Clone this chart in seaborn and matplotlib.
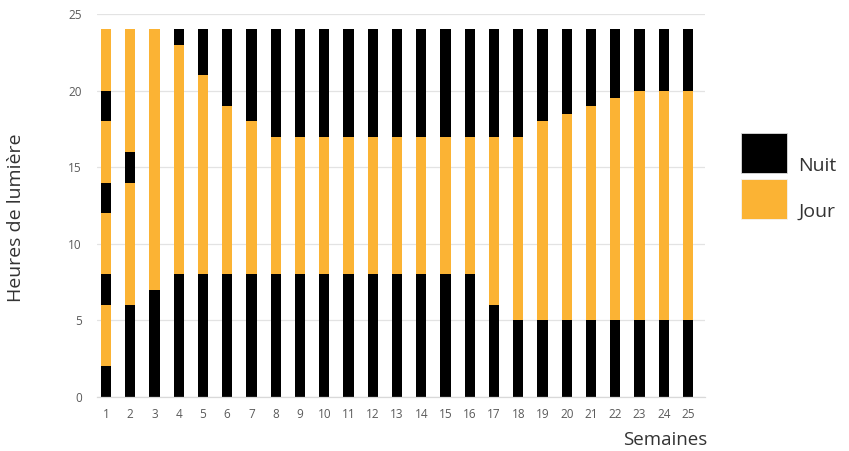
import numpy as np
import pandas as pd
import matplotlib
matplotlib.use("Agg")
import matplotlib.pyplot as plt
from matplotlib.patches import Patch, Rectangle
from matplotlib.legend_handler import HandlerPatch
import seaborn as sns

# Weeks and daily light programme: alternating night / day periods (hours),
# each list gives the duration of that period for weeks 1..25.
semaines = list(range(1, 26))
nuit_1 = [2, 6, 7, 8, 8, 8, 8, 8, 8, 8, 8, 8, 8, 8, 8, 8, 6, 5, 5, 5, 5, 5, 5, 5, 5]
jour_1 = [4, 8, 17, 15, 13, 11, 10, 9, 9, 9, 9, 9, 9, 9, 9, 9, 11, 12, 13, 13.5, 14, 14.5, 15, 15, 15]
nuit_2 = [2, 2, 0, 1, 3, 5, 6, 7, 7, 7, 7, 7, 7, 7, 7, 7, 7, 7, 6, 5.5, 5, 4.5, 4, 4, 4]
jour_2 = [4, 8] + [0] * 23
nuit_3 = [2] + [0] * 24
jour_3 = [4] + [0] * 24
nuit_4 = [2] + [0] * 24
jour_4 = [4] + [0] * 24

couleur_nuit = "#000000"
couleur_jour = "#FBB334"

periodes = [
    ("Nuit", nuit_1), ("Jour", jour_1),
    ("Nuit", nuit_2), ("Jour", jour_2),
    ("Nuit", nuit_3), ("Jour", jour_3),
    ("Nuit", nuit_4), ("Jour", jour_4),
]

sns.set_theme(style="white")
plt.rcParams["font.family"] = ["Open Sans", "DejaVu Sans"]

fig = plt.figure(figsize=(8.49, 4.51), dpi=100)
ax = fig.add_axes([97 / 849, 1 - 397 / 451, 608 / 849, 383 / 451])

# Stack the periods: draw cumulative tops from the highest layer down,
# so every lower layer paints over the upper ones.
cumul = np.cumsum(np.array([v for _, v in periodes], dtype=float), axis=0)
for (nom, _), haut in reversed(list(zip(periodes, cumul))):
    df = pd.DataFrame({"Semaine": semaines, "Heures": haut})
    sns.barplot(
        data=df, x="Semaine", y="Heures", ax=ax,
        color=couleur_nuit if nom == "Nuit" else couleur_jour,
        width=0.42, saturation=1, linewidth=0, errorbar=None,
    )

ax.set_ylim(0, 25)
ax.set_xlim(-0.37, 24.7)
ax.set_yticks([0, 5, 10, 15, 20, 25])
ax.yaxis.grid(True, color="#e3e3e3", linewidth=0.9)
ax.set_axisbelow(True)
for s in ["top", "right", "left"]:
    ax.spines[s].set_visible(False)
ax.spines["bottom"].set_color("#d9d9d9")
ax.spines["bottom"].set_linewidth(0.9)
ax.tick_params(axis="both", length=0, labelsize=8.5, labelcolor="#5a5a5a")
ax.tick_params(axis="y", pad=11)
ax.tick_params(axis="x", pad=8)

ax.set_xlabel("Semaines", fontsize=13.5, color="#333333")
ax.set_ylabel("Heures de lumière", fontsize=14, color="#333333")
ax.xaxis.set_label_coords(0.934, -0.09)
ax.yaxis.set_label_coords(-0.118, 0.467)


class HandlerCarre(HandlerPatch):
    """Legend swatch raised so that the label sits on its lower edge."""

    def create_artists(self, legend, orig_handle, xdescent, ydescent,
                       width, height, fontsize, trans):
        p = Rectangle((-xdescent, -ydescent + 8.8), width, height,
                      facecolor=orig_handle.get_facecolor(),
                      edgecolor=orig_handle.get_edgecolor(),
                      linewidth=orig_handle.get_linewidth())
        p.set_transform(trans)
        return [p]


handles = [
    Patch(facecolor=couleur_nuit, edgecolor="#dddddd", linewidth=0.6, label="Nuit"),
    Patch(facecolor=couleur_jour, edgecolor="#f3f3f3", linewidth=0.6, label="Jour"),
]
leg = fig.legend(
    handles=handles, loc="upper left", bbox_to_anchor=(741 / 849, 1 - 145 / 451),
    frameon=False, fontsize=14, handlelength=2.37, handleheight=2.79,
    labelspacing=0.31, handletextpad=0.57, borderpad=0, borderaxespad=0,
    handler_map={Patch: HandlerCarre()},
)
for t in leg.get_texts():
    t.set_color("#333333")

fig.savefig("out.png", dpi=100)
